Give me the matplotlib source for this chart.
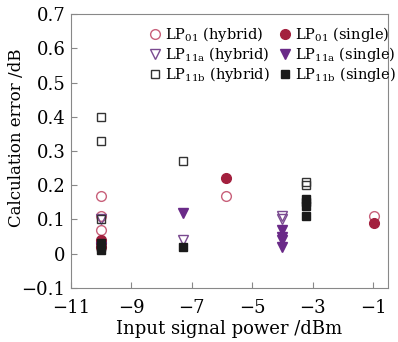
import matplotlib
matplotlib.use("Agg")
from matplotlib import pyplot as plt

plt.rcParams['font.family'] = ['DejaVu Serif']
plt.rcParams['mathtext.fontset'] = 'dejavuserif'

# data
lp01_hybrid_x = [-10, -10, -10, -5.85, -0.95]
lp01_hybrid_y = [0.17, 0.11, 0.07, 0.17, 0.11]
lp01_single_x = [-10, -10, -10, -5.85, -0.95]
lp01_single_y = [0.04, 0.03, 0.02, 0.22, 0.09]

lp11a_hybrid_x = [-10, -7.3, -4, -4]
lp11a_hybrid_y = [0.10, 0.04, 0.11, 0.10]
lp11a_single_x = [-10, -7.3, -4, -4, -4, -4]
lp11a_single_y = [0.02, 0.12, 0.07, 0.05, 0.04, 0.02]

lp11b_hybrid_x = [-10, -10, -10, -7.3, -3.2, -3.2]
lp11b_hybrid_y = [0.40, 0.33, 0.10, 0.27, 0.21, 0.20]
lp11b_single_x = [-10, -10, -10, -7.3, -3.2, -3.2, -3.2, -3.2]
lp11b_single_y = [0.03, 0.02, 0.01, 0.02, 0.16, 0.15, 0.14, 0.11]

c01 = '#c8607a'
c01f = '#a3203e'
c11a = '#7a4a90'
c11af = '#6a2a88'
c11b = '#333333'

fig = plt.figure(figsize=(3.98, 3.42), dpi=100)
ax = fig.add_axes([0.178, 0.158, 0.797, 0.801])

ax.plot(lp01_hybrid_x, lp01_hybrid_y, 'o', mfc='none', mec=c01, ms=7, mew=1, ls='none',
        label=r'LP$_{\mathrm{01}}$ (hybrid)')
ax.plot(lp01_single_x, lp01_single_y, 'o', color=c01f, ms=7, ls='none',
        label=r'LP$_{\mathrm{01}}$ (single)')
ax.plot(lp11a_hybrid_x, lp11a_hybrid_y, 'v', mfc='none', mec=c11a, ms=7, mew=1, ls='none',
        label=r'LP$_{\mathrm{11a}}$ (hybrid)')
ax.plot(lp11a_single_x, lp11a_single_y, 'v', color=c11af, ms=7, ls='none',
        label=r'LP$_{\mathrm{11a}}$ (single)')
ax.plot(lp11b_hybrid_x, lp11b_hybrid_y, 's', mfc='none', mec=c11b, ms=5.5, mew=1, ls='none',
        label=r'LP$_{\mathrm{11b}}$ (hybrid)')
ax.plot(lp11b_single_x, lp11b_single_y, 's', color='#1a1a1a', ms=5.5, ls='none',
        label=r'LP$_{\mathrm{11b}}$ (single)')

ax.set_xlim(-11, -0.5)
ax.set_ylim(-0.1, 0.7)
ax.set_xticks([-11, -9, -7, -5, -3, -1])
ax.set_xticklabels(['\u221211', '\u22129', '\u22127', '\u22125', '\u22123', '\u22121'])
ax.set_yticks([-0.1, 0, 0.1, 0.2, 0.3, 0.4, 0.5, 0.6, 0.7])
ax.set_yticklabels(['\u22120.1', '0', '0.1', '0.2', '0.3', '0.4', '0.5', '0.6', '0.7'])
ax.tick_params(direction='in', length=4, color='#888888', labelsize=13)
ax.tick_params(axis='x', pad=8)
ax.tick_params(axis='y', pad=4)
for s in ax.spines.values():
    s.set_color('#888888')

ax.set_xlabel('Input signal power /dBm', fontsize=13, labelpad=2)
ax.set_ylabel('Calculation error /dB', fontsize=12)
ax.yaxis.set_label_coords(-0.145, 0.55)

h, l = ax.get_legend_handles_labels()
order = [0, 2, 4, 1, 3, 5]
ax.legend([h[i] for i in order], [l[i] for i in order], ncol=2, frameon=False,
          fontsize=10.5, handlelength=0.8, handletextpad=0.3, columnspacing=0.6,
          labelspacing=0.05, borderpad=0, loc='upper left',
          bbox_to_anchor=(0.224, 0.986))

plt.savefig('out.png', dpi=100)
